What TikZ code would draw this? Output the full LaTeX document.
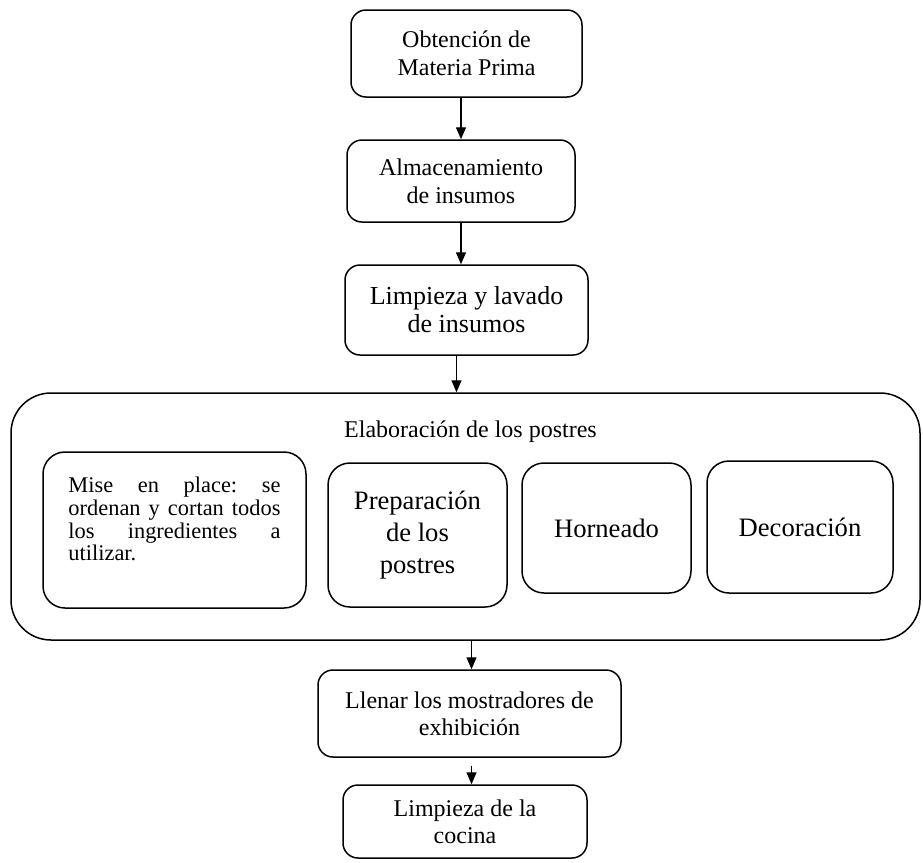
\documentclass[tikz,border=0pt]{standalone}
\usepackage{fontspec}
\setmainfont{Liberation Serif}
\usetikzlibrary{arrows.meta, calc, positioning}
\frenchspacing

\begin{document}
\begin{tikzpicture}[x=0.5pt, y=-0.5pt,
    stepbox/.style={draw, line width=0.75pt, rounded corners=7.5pt, inner sep=0pt, align=center,
      font=\fontsize{12}{14}\selectfont},
    innerbox/.style={draw, line width=0.75pt, rounded corners=11pt, inner sep=0pt, align=center,
      font=\fontsize{13.3}{16}\selectfont},
    groupbox/.style={draw, line width=0.75pt, rounded corners=20pt, inner sep=0pt},
    flowarrow/.style={-{Triangle[width=5pt, length=6pt]}, line width=0.7pt}]
  \useasboundingbox (0,0) rectangle (923,863);
  % main steps
  \node[stepbox, minimum width=115.5pt, minimum height=43.5pt] (obtencion) at (466.5,53.5)
    {Obtención de\\Materia Prima};
  \node[stepbox, minimum width=114pt, minimum height=41pt] (almacen) at (461,181)
    {Almacenamiento\\de insumos};
  \node[stepbox, minimum width=121.5pt, minimum height=45pt, font=\fontsize{13}{14}\selectfont]
    (limpieza) at (466.5,310) {Limpieza y lavado\\de insumos};
  % elaboration group
  \node[groupbox, minimum width=454.5pt, minimum height=123.5pt] (elab) at (465.5,516.5) {};
  \node[font=\fontsize{12}{14}\selectfont] (elabtitle) at ([xshift=2.5pt, yshift=-19.5pt]elab.north)
    {Elaboración de los postres};
  \node[innerbox, minimum width=131.5pt, minimum height=78pt, align=left,
    font=\fontsize{11.2}{11.4}\selectfont] (mise) at (174.5,530)
    {\parbox[c][53pt][t]{106pt}{%
      \makebox[106pt][s]{Mise en place: se}\\
      \makebox[106pt][s]{ordenan y cortan todos}\\
      \makebox[106pt][s]{los ingredientes a}\\
      utilizar.}};
  \node[innerbox, minimum width=89.5pt, minimum height=72pt] (prep) at (417.5,535)
    {Preparación\\de los\\postres};
  \node[innerbox, minimum width=84.5pt, minimum height=65pt] (horno) at (606.5,528) {Horneado};
  \node[innerbox, minimum width=93pt, minimum height=66pt] (deco) at (800,527) {Decoración};
  % final steps
  \node[stepbox, minimum width=151.5pt, minimum height=43.5pt, font=\fontsize{12}{13.5}\selectfont]
    (llenar) at (469.5,713.5) {Llenar los mostradores de\\exhibición};
  \node[stepbox, minimum width=122pt, minimum height=36.5pt, font=\fontsize{12}{13.5}\selectfont]
    (cocina) at (465,821.5) {Limpieza de la\\cocina};
  % arrows
  \draw[flowarrow] (almacen.north |- obtencion.south) -- (almacen.north);
  \draw[flowarrow] (almacen.south) -- (almacen.south |- limpieza.north);
  \draw[flowarrow] ([xshift=-5pt]limpieza.south) -- ([xshift=-5pt]limpieza.south |- elab.north);
  \draw[flowarrow] ([xshift=1pt]llenar.north |- elab.south) -- ([xshift=1pt]llenar.north);
  \draw[flowarrow] ([xshift=1pt, yshift=-4pt]llenar.south) -- ([xshift=1pt]llenar.south |- cocina.north);
\end{tikzpicture}
\end{document}
